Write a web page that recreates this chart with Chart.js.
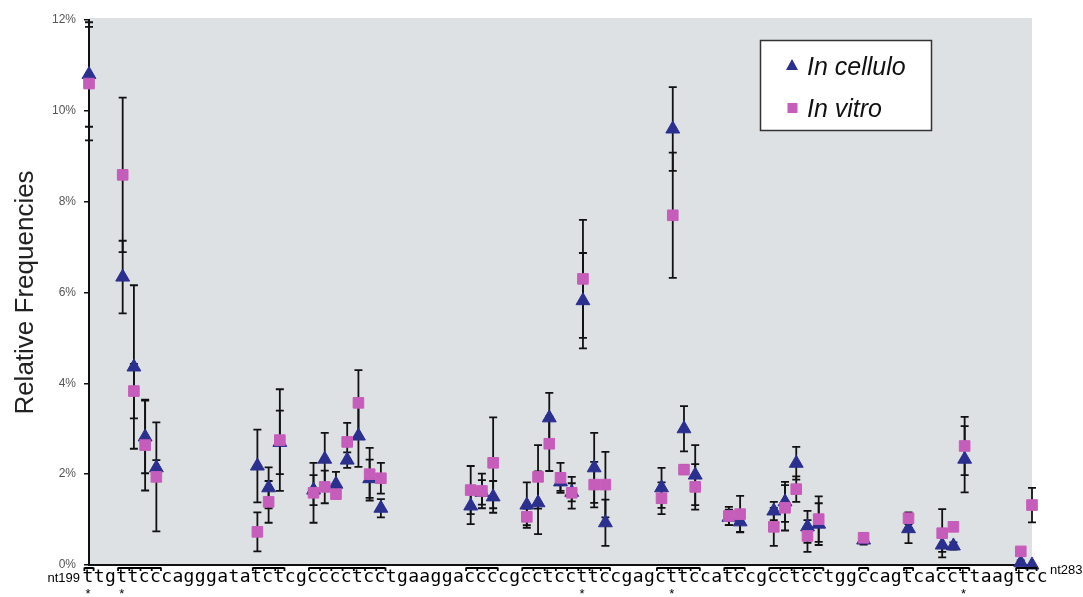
<!DOCTYPE html>
<html><head><meta charset="utf-8">
<script src="https://cdn.jsdelivr.net/npm/chart.js@4/dist/chart.umd.min.js"></script>
<style>html,body{margin:0;padding:0;background:#fff;}canvas{display:block;}</style>
</head><body>
<canvas id="c" width="1083" height="597"></canvas>
<script>
// ---- data ----
const sequence = 'ttgttcccagggatatctcgcccctcctgaaggaccccgcctccttccgagcttccatccgcctcctggccagtcaccttaagtcc'.split('');
const firstLabel = 'nt199';
const lastLabel = 'nt283';
const positions = [0,3,4,5,6,15,16,17,20,21,22,23,24,25,26,34,35,36,39,40,41,42,43,44,45,46,51,52,53,54,57,58,61,62,63,64,65,69,73,76,77,78,83,84];
const celluloValues = [10.8,6.34,4.36,2.82,2.14,2.18,1.7,2.7,1.65,2.33,1.78,2.31,2.84,1.9,1.25,1.3,1.6,1.5,1.32,1.37,3.24,1.83,1.6,5.82,2.14,0.93,1.7,9.6,3.0,1.98,1.05,0.95,1.19,1.39,2.24,0.84,0.9,0.55,0.8,0.44,0.42,2.33,0.05,0.0];
const celluloErrors = [1.15,0.8,1.8,0.8,0.17,0.8,0.45,0.7,0.33,0.58,0.27,0.17,0.68,0.42,0.2,0.4,0.27,0.35,0.5,0.69,0.55,0.2,0.2,1.05,0.77,0.51,0.44,0.92,0.5,0.66,0.17,0.22,0.2,0.44,0.36,0.35,0.46,0.1,0.32,0.15,0.08,0.73,0.05,0.0];
const vitroValues = [10.6,8.59,3.83,2.64,1.94,0.73,1.39,2.75,1.59,1.72,1.56,2.71,3.57,2.0,1.91,1.65,1.63,2.25,1.06,1.94,2.67,1.92,1.59,6.3,1.77,1.77,1.47,7.7,2.1,1.72,1.08,1.12,0.84,1.26,1.67,0.64,1.01,0.6,1.03,0.7,0.84,2.62,0.3,1.32];
const vitroErrors = [1.25,1.7,0.6,1.0,1.2,0.43,0.46,1.12,0.66,0.36,0.1,0.42,0.72,0.58,0.34,0.53,0.38,1.0,0.18,0.7,0.6,0.33,0.35,1.3,0.5,0.72,0.35,1.38,0.1,0.5,0.2,0.4,0.42,0.5,0.28,0.35,0.5,0.1,0.13,0.53,0.08,0.64,0.05,0.38];
const groups = [[0,0],[3,6],[15,17],[20,26],[34,36],[39,46],[51,54],[57,58],[61,65],[69,69],[73,73],[76,78],[83,84]];
const starred = [0,3,44,52,78];
const yTicks = [0,2,4,6,8,10,12];
const seriesNames = ['In cellulo','In vitro'];

const COL_CEL = '#2b2f8e';
const COL_VIT = '#c65dba';

Chart.defaults.font.family = "'Liberation Sans', Arial, sans-serif";

function mk(vals, errs){ return positions.map((p,i)=>({x:p, y:vals[i], e:errs[i]})); }

const bgPlugin = {
  id:'bg',
  beforeDraw(chart){
    const {ctx, chartArea:a} = chart;
    ctx.save();
    ctx.fillStyle = '#dee1e4';
    ctx.fillRect(a.left, a.top-2, a.right-a.left, a.bottom-a.top+2);
    ctx.restore();
  }
};

const errPlugin = {
  id:'err',
  beforeDatasetsDraw(chart){
    const {ctx} = chart;
    const xs = chart.scales.x, ys = chart.scales.y;
    ctx.save();
    ctx.strokeStyle = '#111';
    ctx.lineWidth = 1.8;
    chart.data.datasets.forEach(ds=>{
      ds.data.forEach(d=>{
        if(!d.e) return;
        const x = xs.getPixelForValue(d.x);
        const y1 = ys.getPixelForValue(d.y - d.e);
        const y2 = ys.getPixelForValue(d.y + d.e);
        ctx.beginPath();
        ctx.moveTo(x, y1); ctx.lineTo(x, y2);
        ctx.moveTo(x-4, y1); ctx.lineTo(x+4, y1);
        ctx.moveTo(x-4, y2); ctx.lineTo(x+4, y2);
        ctx.stroke();
      });
    });
    ctx.restore();
  }
};

const seqPlugin = {
  id:'seq',
  afterDraw(chart){
    const {ctx} = chart;
    const xs = chart.scales.x;
    const s = xs.getPixelForValue(1) - xs.getPixelForValue(0);
    ctx.save();
    ctx.fillStyle = '#000';
    ctx.font = '18px "DejaVu Sans Mono", monospace';
    ctx.textAlign = 'center';
    ctx.textBaseline = 'alphabetic';
    sequence.forEach((ch,i)=>{
      ctx.fillText(ch, xs.getPixelForValue(i) - 1, 582);
    });
    // brackets
    ctx.strokeStyle = '#000';
    ctx.lineWidth = 1.8;
    groups.forEach(([a,b])=>{
      const x0 = xs.getPixelForValue(a) - s/2 + 1;
      const x1 = xs.getPixelForValue(b) + s/2 - 1;
      ctx.beginPath();
      ctx.moveTo(x0, 568); ctx.lineTo(x1, 568);
      for(let k=0;k<=b-a+1;k++){
        const xx = Math.min(x1, x0 + k*s);
        ctx.moveTo(xx, 567.5); ctx.lineTo(xx, 571);
      }
      ctx.stroke();
    });
    // asterisks
    ctx.font = '13px "Liberation Sans", Arial';
    ctx.textBaseline = 'top';
    starred.forEach(i=>{
      ctx.fillText('*', xs.getPixelForValue(i) - 1, 588);
    });
    // end labels
    ctx.font = '13px "Liberation Sans", Arial';
    ctx.textBaseline = 'alphabetic';
    ctx.textAlign = 'right';
    ctx.fillText(firstLabel, 80, 582);
    ctx.textAlign = 'left';
    ctx.fillText(lastLabel, 1050, 574);
    ctx.restore();
  }
};

const legendPlugin = {
  id:'customLegend',
  afterDraw(chart){
    const {ctx} = chart;
    ctx.save();
    ctx.fillStyle = '#fff';
    ctx.fillRect(760, 40, 172, 91);
    ctx.strokeStyle = '#333';
    ctx.lineWidth = 1.5;
    ctx.strokeRect(760.5, 40.5, 171, 90);
    const dsets = chart.data.datasets;
    // triangle
    ctx.fillStyle = dsets[0].backgroundColor;
    ctx.beginPath();
    ctx.moveTo(792, 59); ctx.lineTo(798, 70); ctx.lineTo(786, 70); ctx.closePath();
    ctx.fill();
    // square
    ctx.fillStyle = dsets[1].backgroundColor;
    ctx.fillRect(787.5, 103, 10, 10);
    ctx.fillStyle = '#111';
    ctx.font = 'italic 25px "Liberation Sans", Arial';
    ctx.textAlign = 'left';
    ctx.textBaseline = 'alphabetic';
    ctx.fillText(dsets[0].label, 807, 75);
    ctx.fillText(dsets[1].label, 807, 117);
    ctx.restore();
  }
};

new Chart(document.getElementById('c'), {
  type:'scatter',
  data:{
    datasets:[
      {label:seriesNames[0], data:mk(celluloValues, celluloErrors), pointStyle:'triangle', pointRadius:8, pointHoverRadius:8,
       backgroundColor:COL_CEL, borderColor:COL_CEL, borderWidth:1, clip:false, order:1},
      {label:seriesNames[1], data:mk(vitroValues, vitroErrors), pointStyle:'rect', pointRadius:7.5, pointHoverRadius:7.5,
       backgroundColor:COL_VIT, borderColor:COL_VIT, borderWidth:1, clip:false, order:0}
    ]
  },
  options:{
    responsive:false, animation:false, devicePixelRatio:1,
    layout:{padding:{left:0, top:20, right:51, bottom:32}},
    plugins:{legend:{display:false}, tooltip:{enabled:false}},
    scales:{
      x:{type:'linear', min:0, max:84,
         ticks:{display:false}, grid:{display:false},
         border:{display:true, color:'#111', width:2},
         afterFit(s){ s.height = 0; }},
      y:{type:'linear', min:0, max:12,
         afterBuildTicks(s){ s.ticks = yTicks.map(v=>({value:v})); },
         ticks:{callback:v=>v+'%', color:'#555', font:{size:12}, padding:8},
         grid:{display:true, drawOnChartArea:false, drawTicks:true, tickLength:5, color:'#111', lineWidth:1.5},
         border:{display:true, color:'#111', width:2},
         title:{display:true, text:'Relative Frequencies', color:'#222', font:{size:26}, padding:{top:10, bottom:0}},
         afterFit(s){ s.width = 89; }}
    }
  },
  plugins:[bgPlugin, errPlugin, seqPlugin, legendPlugin]
});
</script>
</body></html>
